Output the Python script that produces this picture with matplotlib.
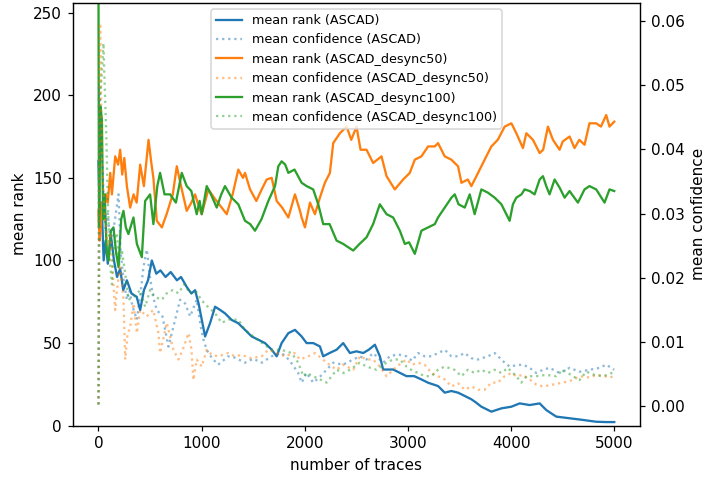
import matplotlib
matplotlib.use("Agg")
import matplotlib.pyplot as plt
import numpy as np

plt.rcParams.update({"font.family": "DejaVu Sans", "font.size": 10})

# (number of traces, mean rank)
rank_ascad = [
    (0, 160), (15, 120), (30, 135), (50, 100), (70, 112), (90, 98), (120, 115),
    (150, 100), (180, 90), (210, 95), (240, 82), (275, 88), (320, 80), (370, 78),
    (404, 70), (440, 82), (480, 88), (517, 100), (560, 92), (600, 94), (650, 90),
    (700, 93), (760, 88), (800, 90), (855, 84), (900, 80), (936, 82), (970, 74),
    (1033, 54), (1081, 62), (1130, 72), (1180, 70), (1226, 68), (1291, 64),
    (1355, 62), (1420, 58), (1485, 54), (1550, 52), (1614, 50), (1679, 46),
    (1727, 42), (1775, 50), (1840, 56), (1904, 58), (1969, 54), (2017, 50),
    (2081, 50), (2146, 48), (2178, 42), (2240, 44), (2308, 46), (2372, 50),
    (2437, 44), (2500, 45), (2566, 44), (2620, 46), (2679, 49), (2727, 42),
    (2759, 34), (2856, 34), (2921, 32), (2985, 30), (3060, 30), (3130, 28),
    (3195, 26), (3291, 24), (3356, 20), (3420, 21), (3485, 20), (3550, 18),
    (3614, 16), (3660, 14), (3711, 11.5), (3760, 10), (3808, 8.5), (3905, 10.5),
    (4002, 11.5), (4082, 13.5), (4179, 12.5), (4276, 13.5), (4340, 9.5),
    (4400, 7), (4437, 5.5), (4566, 4.5), (4695, 3.5), (4824, 2.4), (4920, 2.2),
    (4999, 2.2),
]
rank_desync50 = [
    (0, 130), (10, 112), (20, 118), (35, 135), (50, 125), (70, 140), (90, 135),
    (114, 153), (130, 140), (162, 163), (190, 158), (210, 167), (230, 152),
    (250, 162), (275, 145), (307, 132), (340, 140), (370, 135), (404, 158),
    (440, 145), (485, 173), (510, 160), (532, 150), (565, 124), (614, 120),
    (660, 128), (720, 140), (759, 157), (800, 145), (855, 130), (900, 135),
    (936, 140), (975, 132), (1000, 128), (1065, 143), (1120, 138), (1194, 132),
    (1243, 128), (1300, 140), (1355, 155), (1400, 150), (1420, 153), (1469, 143),
    (1530, 136), (1582, 143), (1630, 149), (1679, 150), (1727, 136), (1780, 132),
    (1840, 126), (1904, 140), (1953, 130), (1969, 126), (2001, 120), (2050, 135),
    (2098, 128), (2146, 138), (2194, 147), (2243, 153), (2275, 171), (2340, 177),
    (2405, 181), (2450, 173), (2501, 181), (2540, 167), (2598, 167), (2662, 159),
    (2743, 163), (2792, 151), (2872, 143), (2953, 149), (3017, 153), (3066, 161),
    (3130, 163), (3195, 169), (3259, 169), (3291, 171), (3356, 163), (3420, 161),
    (3485, 157), (3518, 147), (3580, 149), (3614, 145), (3663, 151), (3743, 161),
    (3808, 169), (3870, 173), (3937, 181), (4002, 183), (4050, 177), (4114, 168),
    (4147, 177), (4211, 173), (4276, 165), (4310, 167), (4356, 181), (4405, 173),
    (4469, 167), (4500, 172), (4566, 175), (4614, 168), (4660, 173), (4711, 170),
    (4759, 183), (4824, 183), (4870, 181), (4921, 188), (4953, 181), (4999, 184),
]
rank_desync100 = [
    (0, 260), (5, 120), (20, 193), (33, 185), (45, 125), (60, 140), (80, 105),
    (97, 100), (120, 118), (145, 120), (170, 105), (194, 96), (220, 125),
    (242, 130), (265, 120), (290, 116), (339, 126), (372, 110), (420, 102),
    (452, 136), (500, 140), (532, 122), (570, 145), (597, 153), (640, 140),
    (694, 140), (750, 135), (807, 153), (855, 145), (900, 142), (952, 128),
    (980, 136), (1001, 128), (1049, 145), (1090, 140), (1146, 132), (1190, 140),
    (1226, 145), (1290, 138), (1355, 134), (1420, 124), (1470, 122), (1517, 118),
    (1580, 125), (1646, 136), (1711, 145), (1743, 157), (1775, 160), (1810, 158),
    (1840, 153), (1900, 155), (1969, 147), (2017, 145), (2081, 143), (2130, 134),
    (2178, 122), (2240, 122), (2308, 112), (2372, 110), (2469, 106), (2530, 110),
    (2598, 114), (2662, 122), (2727, 134), (2792, 128), (2856, 126), (2921, 118),
    (2969, 110), (3010, 111), (3066, 104), (3130, 118), (3195, 120), (3260, 122),
    (3291, 126), (3356, 132), (3421, 138), (3453, 140), (3490, 134), (3550, 132),
    (3598, 140), (3646, 128), (3711, 143), (3775, 141), (3840, 138), (3905, 134),
    (3969, 126), (3985, 124), (4017, 134), (4050, 138), (4100, 140), (4130, 143),
    (4180, 142), (4227, 140), (4276, 149), (4308, 151), (4340, 145), (4372, 140),
    (4421, 149), (4470, 144), (4518, 138), (4566, 142), (4647, 135), (4711, 143),
    (4759, 145), (4824, 143), (4905, 135), (4953, 143), (4999, 142),
]

# (number of traces, mean confidence)
conf_ascad = [
    (0, 0.0003), (5, 0.050), (15, 0.045), (25, 0.040), (40, 0.037), (55, 0.030),
    (70, 0.027), (90, 0.030), (120, 0.025), (150, 0.028), (194, 0.033),
    (215, 0.024), (240, 0.020), (275, 0.0166), (300, 0.018), (330, 0.0155),
    (372, 0.0135), (410, 0.018), (436, 0.0217), (468, 0.0244), (500, 0.020),
    (530, 0.017), (565, 0.015), (620, 0.014), (678, 0.0093), (720, 0.012),
    (791, 0.0166), (840, 0.016), (888, 0.014), (952, 0.0166), (990, 0.0125),
    (1017, 0.0104), (1049, 0.0088), (1100, 0.0075), (1160, 0.0065),
    (1259, 0.0078), (1320, 0.0076), (1420, 0.0068), (1500, 0.0074),
    (1582, 0.0068), (1679, 0.0078), (1775, 0.0083), (1850, 0.0072),
    (1936, 0.0052), (1969, 0.0037), (2017, 0.0052), (2081, 0.0037),
    (2140, 0.0045), (2211, 0.0057), (2275, 0.0068), (2370, 0.0065),
    (2469, 0.0073), (2533, 0.0078), (2598, 0.0073), (2662, 0.0083),
    (2759, 0.0068), (2824, 0.0078), (2900, 0.0081), (2985, 0.0078),
    (3040, 0.0071), (3098, 0.0083), (3160, 0.0078), (3227, 0.0078),
    (3291, 0.0083), (3356, 0.0088), (3420, 0.0078), (3485, 0.0078),
    (3550, 0.0083), (3614, 0.0075), (3679, 0.0073), (3775, 0.0078),
    (3840, 0.0083), (3937, 0.0068), (3985, 0.0062), (4050, 0.0064),
    (4114, 0.0065), (4179, 0.0060), (4243, 0.0052), (4308, 0.0057),
    (4372, 0.0060), (4469, 0.0052), (4566, 0.0060), (4663, 0.0054),
    (4760, 0.0057), (4857, 0.0060), (4921, 0.0065), (4999, 0.0057),
]
conf_desync50 = [
    (0, 0.0003), (8, 0.045), (16, 0.0596), (25, 0.048), (35, 0.037), (60, 0.030),
    (90, 0.025), (114, 0.027), (140, 0.020), (162, 0.015), (178, 0.018),
    (210, 0.022), (242, 0.0166), (259, 0.0073), (280, 0.011), (307, 0.0124),
    (340, 0.016), (372, 0.0114), (404, 0.015), (468, 0.014), (530, 0.015),
    (581, 0.0114), (597, 0.0083), (662, 0.013), (726, 0.0088), (775, 0.0073),
    (820, 0.009), (872, 0.0114), (900, 0.009), (920, 0.0041), (952, 0.0073),
    (1001, 0.0062), (1049, 0.0088), (1100, 0.0080), (1162, 0.0078),
    (1259, 0.0083), (1320, 0.0078), (1388, 0.0080), (1480, 0.0075),
    (1582, 0.0078), (1646, 0.0088), (1730, 0.0083), (1807, 0.0078),
    (1900, 0.0083), (1953, 0.0073), (2033, 0.0078), (2100, 0.0083),
    (2211, 0.0068), (2308, 0.0057), (2370, 0.0065), (2469, 0.0057),
    (2533, 0.0078), (2600, 0.0073), (2662, 0.0073), (2727, 0.0062),
    (2792, 0.0047), (2890, 0.0062), (2985, 0.0073), (3040, 0.0065),
    (3098, 0.0068), (3160, 0.0065), (3227, 0.0052), (3291, 0.0047),
    (3356, 0.0042), (3421, 0.0031), (3485, 0.0036), (3550, 0.0026),
    (3614, 0.0031), (3679, 0.0026), (3743, 0.0026), (3808, 0.0037),
    (3870, 0.0037), (3937, 0.0047), (4002, 0.0052), (4050, 0.0047),
    (4114, 0.0049), (4179, 0.0042), (4243, 0.0034), (4308, 0.0031),
    (4405, 0.0034), (4500, 0.0037), (4598, 0.0041), (4663, 0.0047),
    (4759, 0.0045), (4824, 0.0049), (4905, 0.0047), (4953, 0.0045),
    (4999, 0.0047),
]
conf_desync100 = [
    (0, 0.0003), (16, 0.048), (33, 0.052), (48, 0.0565), (60, 0.050),
    (75, 0.0425), (90, 0.032), (114, 0.0217), (130, 0.019), (145, 0.0244),
    (178, 0.027), (200, 0.022), (226, 0.0244), (259, 0.0207), (290, 0.0166),
    (340, 0.017), (404, 0.0181), (452, 0.0155), (500, 0.0181), (550, 0.017),
    (614, 0.0166), (662, 0.0176), (720, 0.0181), (775, 0.0176), (830, 0.019),
    (888, 0.0176), (940, 0.018), (1000, 0.0165), (1060, 0.0155), (1130, 0.0145),
    (1194, 0.013), (1259, 0.0135), (1355, 0.0135), (1420, 0.0119),
    (1500, 0.0109), (1582, 0.0099), (1679, 0.0088), (1775, 0.0088),
    (1872, 0.0083), (1936, 0.0068), (1985, 0.0047), (2017, 0.0052),
    (2081, 0.0047), (2146, 0.0042), (2211, 0.0037), (2260, 0.0047),
    (2308, 0.0057), (2372, 0.0052), (2437, 0.0057), (2533, 0.0068),
    (2598, 0.0062), (2695, 0.0057), (2792, 0.0068), (2856, 0.0073),
    (2920, 0.0073), (2985, 0.0062), (3030, 0.0057), (3098, 0.0052),
    (3162, 0.0047), (3227, 0.0047), (3291, 0.0057), (3356, 0.0062),
    (3450, 0.0057), (3518, 0.0047), (3580, 0.0057), (3646, 0.0052),
    (3711, 0.0057), (3775, 0.0052), (3840, 0.0057), (3905, 0.0052),
    (3969, 0.0060), (3985, 0.0057), (4050, 0.0047), (4098, 0.0037),
    (4150, 0.0047), (4243, 0.0047), (4340, 0.0049), (4437, 0.0047),
    (4502, 0.0057), (4598, 0.0047), (4663, 0.0041), (4727, 0.0054),
    (4810, 0.0049), (4889, 0.0047), (4950, 0.0050), (4999, 0.0054),
]

datasets = ["ASCAD", "ASCAD_desync50", "ASCAD_desync100"]
ranks = [rank_ascad, rank_desync50, rank_desync100]
confs = [conf_ascad, conf_desync50, conf_desync100]
colors = ["tab:blue", "tab:orange", "tab:green"]

DPI = 110
fig = plt.figure(figsize=(708 / DPI, 478 / DPI), dpi=DPI)
ax1 = fig.add_axes([0.1027, 0.1094, 0.8013, 0.885])
ax2 = ax1.twinx()

handles = []
for name, rk, cf, col in zip(datasets, ranks, confs, colors):
    rk = np.array(rk)
    cf = np.array(cf)
    h1, = ax1.plot(rk[:, 0], rk[:, 1], color=col, lw=1.5,
                   label=f"mean rank ({name})")
    h2, = ax2.plot(cf[:, 0], cf[:, 1], color=col, lw=1.5, ls=":", alpha=0.5,
                   label=f"mean confidence ({name})")
    handles += [h1, h2]

ax1.set_ylim(0, 256)
ax2.set_ylim(-0.003, 0.0628)
ax1.set_xlabel("number of traces")
ax1.set_ylabel("mean rank")
ax2.set_ylabel("mean confidence")

ax2.legend(handles=handles, labels=[h.get_label() for h in handles],
           loc="upper center", fontsize="small")

fig.savefig("out.png", dpi=DPI)
